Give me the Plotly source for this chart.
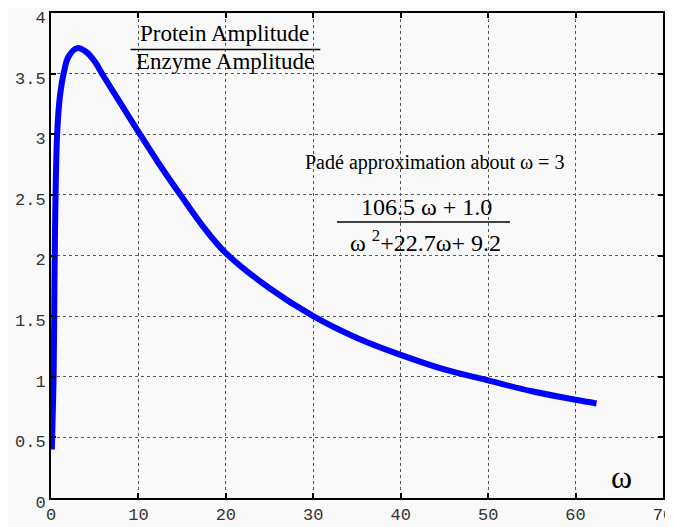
import plotly.graph_objects as go

omega = [0.1, 0.2, 0.3, 0.4, 0.5, 0.7, 1.0, 1.5, 2.0, 3.0, 4.0, 5.0, 6.0, 8.0, 10.0,
         12.5, 15.0, 17.5, 20.0, 25.0, 30.0, 35.0, 40.0, 45.0, 50.0, 55.0, 60.0, 62.4]
ratio = [0.4, 0.7, 1.0, 1.8, 2.4, 3.0, 3.3, 3.52, 3.64, 3.71, 3.68, 3.6, 3.48, 3.25, 3.02,
         2.74, 2.48, 2.23, 2.02, 1.73, 1.50, 1.32, 1.18, 1.06, 0.97, 0.88, 0.81, 0.78]

x_ticks = [0, 10, 20, 30, 40, 50, 60, 70]
y_ticks = [0, 0.5, 1, 1.5, 2, 2.5, 3, 3.5, 4]
y_tick_text = ["0", "0.5", "1", "1.5", "2", "2.5", "3", "3.5", "4"]

fig = go.Figure()
fig.add_trace(go.Scatter(x=omega, y=ratio, mode="lines",
                         line=dict(color="#0000ff", width=6, shape="spline"),
                         showlegend=False, hoverinfo="skip"))

serif = "Liberation Serif, Times New Roman, serif"
mono = "Liberation Mono, Courier New, monospace"

axis_common = dict(showline=True, linecolor="black", linewidth=2, mirror="ticks",
                   ticks="inside", ticklen=5, tickwidth=2, tickcolor="black",
                   showgrid=True, gridcolor="#555555", griddash="dot", gridwidth=1,
                   zeroline=False, automargin=False, ticklabeloverflow="allow",
                   tickfont=dict(family=mono, size=17, color="#333333"))

fig.update_xaxes(range=[0, 70], tickvals=x_ticks, **axis_common)
fig.update_yaxes(range=[0, 4], tickvals=y_ticks, ticktext=y_tick_text,
                 ticklabelshift=4, **axis_common)

annotations = [
    dict(x=19.9, y=3.83, text="Protein Amplitude", font=dict(size=23)),
    dict(x=19.9, y=3.60, text="Enzyme Amplitude", font=dict(size=23)),
    dict(x=43.9, y=2.77, text="Padé approximation about ω = 3", font=dict(size=20)),
    dict(x=42.9, y=2.40, text="106.5 ω + 1.0", font=dict(size=24)),
    dict(x=42.8, y=2.12, text="ω <sup>2</sup>+22.7ω+ 9.2", font=dict(size=24)),
    dict(x=65.3, y=0.17, text="ω", font=dict(size=32)),
]
for a in annotations:
    a.update(xref="x", yref="y", showarrow=False, xanchor="center", yanchor="middle")
    a["font"].update(family=serif, color="black")
fig.update_layout(annotations=annotations)

fig.add_shape(type="line", xref="x", yref="y", x0=9.1, x1=30.8, y0=3.70, y1=3.70,
              line=dict(color="black", width=1.5))
fig.add_shape(type="line", xref="x", yref="y", x0=32.7, x1=52.5, y0=2.276, y1=2.276,
              line=dict(color="black", width=1.5))

fig.update_layout(width=665, height=519, margin=dict(l=43, r=10, t=5, b=29),
                  paper_bgcolor="#f9f9f9", plot_bgcolor="#f9f9f9")

fig.write_html("out.html")
